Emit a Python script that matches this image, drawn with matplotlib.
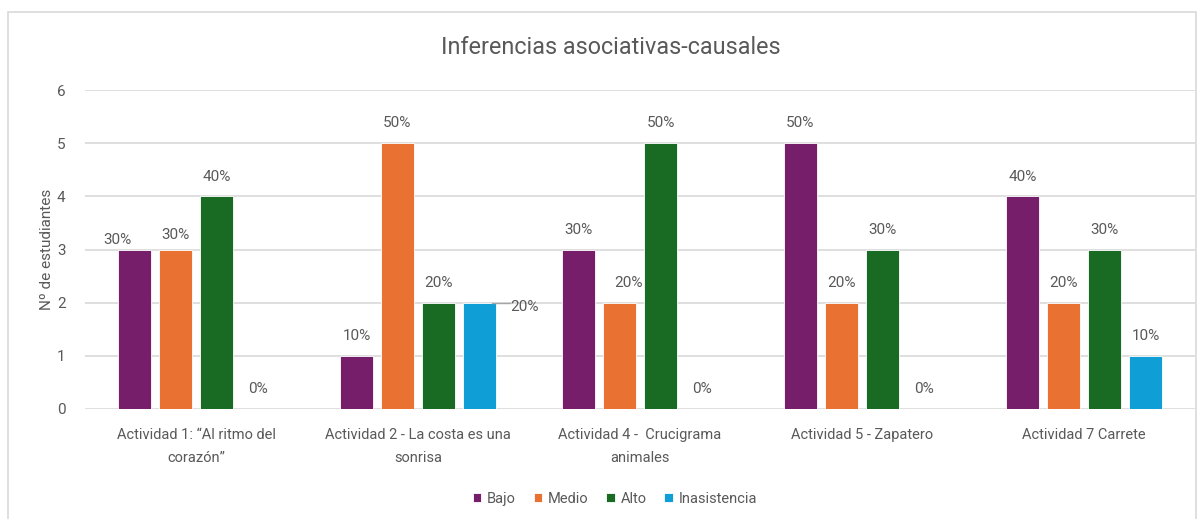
import matplotlib
matplotlib.use("Agg")
import matplotlib.pyplot as plt
import numpy as np
from matplotlib.patches import Rectangle

categories = ["Actividad 1: \u201cAl ritmo del\ncoraz\u00f3n\u201d",
              "Actividad 2 - La costa es una\nsonrisa",
              "Actividad 4 -  Crucigrama\nanimales",
              "Actividad 5 - Zapatero",
              "Actividad 7 Carrete"]
series_names = ["Bajo", "Medio", "Alto", "Inasistencia"]
bajo = [3, 1, 3, 5, 4]
medio = [3, 5, 2, 2, 2]
alto = [4, 2, 5, 3, 3]
inasistencia = [0, 2, 0, 0, 1]
labels_bajo = ["30%", "10%", "30%", "50%", "40%"]
labels_medio = ["30%", "50%", "20%", "20%", "20%"]
labels_alto = ["40%", "20%", "50%", "30%", "30%"]
labels_inas = ["0%", "20%", "0%", "0%", "10%"]
colors = ["#761E6A", "#E97132", "#196B24", "#0F9ED5"]

plt.rcParams['font.family'] = ['Roboto', 'DejaVu Sans']
fig = plt.figure(figsize=(12, 5.19), dpi=100)
# outer frame
fig.patches.append(Rectangle((8/1200, -0.1), (1196-8)/1200, 1.1 - 12/519,
                             transform=fig.transFigure, fill=False,
                             edgecolor="#D9D9D9", linewidth=1.2))
ax = fig.add_axes([85/1200, 110/519, 1110/1200, 319/519])

x = np.arange(len(categories))
w = 0.15
step = 0.185
data = [bajo, medio, alto, inasistencia]
labs = [labels_bajo, labels_medio, labels_alto, labels_inas]
gray = "#595959"
# manual label nudges (series index, category index) -> (dx, dy) in data units
nudges = {(0, 0): (-0.075, -0.2), (1, 0): (0.0, -0.1), (1, 2): (0.04, 0.0)}
for i, (vals, lab, c, name) in enumerate(zip(data, labs, colors, series_names)):
    pos = x + (i - 1.5) * step
    ax.bar(pos, vals, width=w, color=c, label=name, zorder=3,
           edgecolor="white", linewidth=0.6)
    for j, (p, v, t) in enumerate(zip(pos, vals, lab)):
        if i == 3 and j == 1:
            ax.plot([p + w / 2 - 0.02, p + w / 2 + 0.06], [v, v], color="#A6A6A6",
                    lw=1, zorder=4)
            ax.text(p + w / 2 + 0.065, v - 0.08, t, ha="left", va="center",
                    fontsize=11, color=gray, zorder=5)
        else:
            dx, dy = nudges.get((i, j), (0, 0))
            ax.text(p + dx, v + 0.37 + dy, t, ha="center", va="center", fontsize=11,
                    color=gray, zorder=5)

ax.set_xlim(-0.5, len(categories) - 0.5)
ax.set_ylim(0, 6)
ax.set_yticks(range(0, 7))
ax.yaxis.grid(True, color="#D9D9D9", linewidth=1.2, zorder=0)
ax.set_axisbelow(True)
for s in ax.spines.values():
    s.set_visible(False)
ax.tick_params(axis="both", length=0, colors=gray, labelsize=11)
ax.tick_params(axis="y", pad=14)
ax.set_xticks(x)
ax.set_xticklabels(categories, fontsize=10.5, color=gray, linespacing=1.75)
ax.tick_params(axis="x", pad=14)
ax.set_ylabel("N\u00ba de estudiantes", fontsize=11, color=gray, labelpad=2)

fig.text(611/1200, 1 - 47/519, "Inferencias asociativas-causales", ha="center",
         va="center", fontsize=16.8, color=gray)

fig.legend(loc="center", bbox_to_anchor=(615/1200, 1 - 499/519), ncol=4,
           frameon=False, fontsize=10.5, handlelength=0.6, handleheight=0.6,
           handletextpad=0.4, columnspacing=1.2, labelcolor=gray)

fig.savefig("out.png", dpi=100)
